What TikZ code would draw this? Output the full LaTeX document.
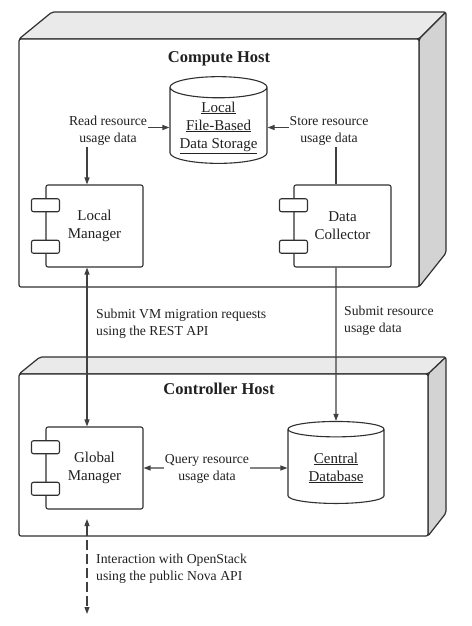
\documentclass[tikz,border=0pt]{standalone}
\usepackage{fontspec}
\setmainfont{Liberation Serif}
\usetikzlibrary{shapes.geometric,arrows.meta,calc}

\definecolor{edgegray}{HTML}{303030}
\definecolor{wiregray}{HTML}{404040}
\definecolor{topface}{HTML}{EAEAEA}
\definecolor{sideface}{HTML}{D3D3D3}

\tikzset{
	txt/.style={font=\fontsize{13.7}{17}\selectfont, text=black!87, inner sep=1pt},
	bigtxt/.style={font=\fontsize{15}{18}\selectfont, text=black!87},
	hosttitle/.style={font=\fontsize{16.5}{20}\selectfont\bfseries, text=black!87},
	hostface/.style={draw=edgegray, line width=1.2, rounded corners=2},
	comp/.style={bigtxt, draw=edgegray, line width=1.1, rounded corners=2, fill=white, minimum width=97, minimum height=82, align=center},
	comptab/.style={draw=edgegray, line width=1.1, rounded corners=2, fill=white, minimum width=28, minimum height=13, inner sep=0},
	store/.style={bigtxt, cylinder, shape border rotate=90, aspect=0.25, draw=edgegray, line width=1.1, fill=white, align=center},
	wire/.style={draw=wiregray, line width=1.1},
	lab/.style={txt, fill=white, align=center},
	sidelab/.style={txt, anchor=west, align=left},
}

\begin{document}
\begin{tikzpicture}[x=1pt, y=-1pt, >={Triangle[length=7pt,width=5pt]}]
	\useasboundingbox (0,0) rectangle (471,626);

	\filldraw[hostface, fill=topface] (19,39) -- (52,12) -- (446,12) -- (419,39) -- cycle;
	\filldraw[hostface, fill=sideface] (419,39) -- (446,12) -- (446,253) -- (419,287) -- cycle;
	\node[hostface, fill=white, minimum width=400, minimum height=248] (compute) at (219,163) {};
	\node[hosttitle] (computetitle) at (219,59) {Compute Host};

	\filldraw[hostface, fill=topface] (19,374) -- (40,357) -- (446,357) -- (428,374) -- cycle;
	\filldraw[hostface, fill=sideface] (428,374) -- (446,357) -- (446,513) -- (428,536) -- cycle;
	\node[hostface, fill=white, minimum width=409, minimum height=162] (controller) at (223.5,455) {};
	\node[hosttitle] (controllertitle) at (219,389) {Controller Host};

	\node[comp] (lm) at (94.5,226) {Local\\Manager};
	\node[comp] (dc) at (342.5,226) {Data\\Collector};
	\node[comp] (gm) at (94.5,468) {Global\\Manager};
	\foreach \n in {lm,dc,gm} {
		\node[comptab] (\n-a) at ($(\n.north west)!0.25!(\n.south west)$) {};
		\node[comptab] (\n-b) at ($(\n.north west)!0.75!(\n.south west)$) {};
	}

	\node[store, minimum width=97, minimum height=80] (ld) at (218.5,127.5) {\underline{Local}\\\underline{File-Based}\\\underline{Data Storage}};
	\node[store, minimum width=96, minimum height=82] (cdb) at (336,468) {\underline{Central}\\\underline{Database}};

	\coordinate (lmx) at (87,0);
	\coordinate (osup) at (87,519);
	\coordinate (osdn) at (87,614);

	\draw[wire, <->] (lm.north -| lmx) |- (ld.west);
	\node[lab] (readlab) at (108,131) {Read resource\\usage data};
	\draw[wire, ->] (dc.north -| cdb) |- (ld.east);
	\node[lab] (storelab) at (329,131) {Store resource\\usage data};

	\draw[wire, <->] (lm.south -| lmx) -- (gm.north -| lmx);
	\node[sidelab] (migratelab) at (95,324) {Submit VM migration requests\\using the REST API};
	\draw[wire, ->] (dc.south -| cdb) -- (cdb.north);
	\node[sidelab] (submitlab) at (343,321) {Submit resource\\usage data};

	\draw[wire, <->] (gm.east) -- (cdb.west);
	\node[lab] (querylab) at (207,469) {Query resource\\usage data};

	\draw[wire, <->, dash pattern=on 10pt off 4pt] (osup) -- (osdn);
	\node[sidelab] (novalab) at (95,569) {Interaction with OpenStack\\using the public Nova API};
\end{tikzpicture}
\end{document}
